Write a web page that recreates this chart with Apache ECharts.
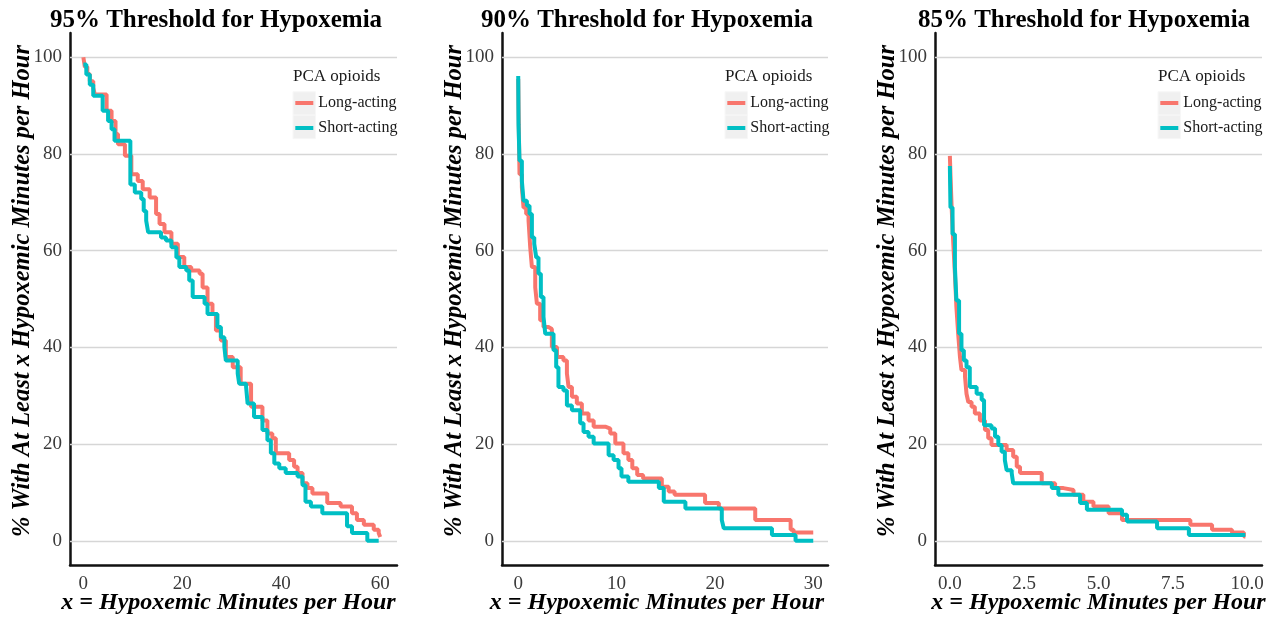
<!DOCTYPE html>
<html>
<head>
<meta charset="utf-8">
<script src="https://cdn.jsdelivr.net/npm/echarts@6/dist/echarts.min.js"></script>
<style>
html,body{margin:0;padding:0;background:#fff;}
#chart{width:1279px;height:627px;}
</style>
</head>
<body>
<div id="chart"></div>
<script>
// ---- Data ----
const panelTitles = ['95% Threshold for Hypoxemia', '90% Threshold for Hypoxemia', '85% Threshold for Hypoxemia'];
const seriesNames = ['Long-acting', 'Short-acting'];
const legendTitle = 'PCA opioids';
const xAxisTitle = 'x = Hypoxemic Minutes per Hour';
const yAxisTitle = '% With At Least x Hypoxemic Minutes per Hour';
const yTicks = [0, 20, 40, 60, 80, 100];
const xTicks95 = [0, 20, 40, 60];
const xTicks90 = [0, 10, 20, 30];
const xTicks85 = [0, 2.5, 5, 7.5, 10];

const long95 = [[0,100],[0.3,98],[0.8,96.5],[1.3,95],[2.0,93.7],[2.3,92.3],[4.7,88.9],[5.7,86.8],[6.5,84.1],[7.0,82.0],[8.4,79.6],[9.7,75.8],[11.0,74.4],[12.0,72.7],[13.4,71.0],[14.7,67.6],[15.4,65.5],[16.4,63.8],[17.8,61.4],[19.1,58.7],[20.4,56.6],[21.8,55.9],[23.5,55.2],[24.1,52.4],[25.1,49.0],[26.1,46.9],[26.8,43.5],[27.8,41.4],[28.8,38.0],[30.2,35.9],[31.8,32.5],[33.9,27.7],[36.2,24.9],[37.2,22.2],[38.2,21.2],[38.9,18.1],[41.6,16.7],[42.6,15.3],[43.3,14.0],[44.3,11.9],[45.3,10.9],[46.3,9.8],[49.3,7.8],[52.0,7.1],[54.3,5.7],[55.3,4.3],[56.7,3.3],[58.7,2.3],[59.7,1.6],[60.0,0.8]];
const short95 = [[0,98.5],[0.6,96.4],[1.3,94.3],[2.0,92.0],[3.9,88.9],[5.0,86.8],[5.7,85.1],[6.3,82.7],[9.5,73.7],[10.4,72.0],[11.7,70.7],[12.2,68.2],[12.7,66.2],[13.1,63.8],[15.7,62.7],[16.7,62.1],[17.8,60.7],[18.8,58.6],[19.4,56.6],[20.8,55.9],[21.4,53.8],[22.1,50.4],[24.5,49.0],[25.1,46.9],[27.1,44.2],[27.8,42.1],[28.5,40.1],[28.8,37.3],[31.2,34.6],[31.5,32.5],[32.9,31.8],[33.2,28.4],[34.5,25.6],[36.2,22.9],[37.2,20.8],[37.9,18.1],[38.6,16.0],[39.6,15.0],[40.9,14.0],[43.3,13.3],[44.3,11.5],[44.9,8.1],[46.0,7.1],[48.3,5.7],[53.3,3.0],[54.3,1.6],[57.4,0],[59.7,0]];
const long90 = [[0,95.5],[0.03,89.6],[0.13,75.8],[0.37,73.1],[0.54,68.9],[0.81,67.6],[1.05,66.2],[1.22,60.7],[1.39,56.6],[1.73,52.4],[1.9,49.0],[2.23,45.6],[2.57,44.2],[3.07,43.8],[3.42,40.1],[3.94,38.0],[4.6,37.3],[4.95,34.6],[5.12,31.8],[5.46,29.8],[5.96,28.4],[6.47,26.3],[7.15,24.9],[7.67,23.6],[8.85,23.2],[9.36,22.2],[9.87,20.1],[10.7,18.1],[11.2,16.7],[11.6,15.0],[12.1,13.6],[12.7,12.9],[14.6,11.2],[15.3,10.2],[15.9,9.5],[19.0,7.8],[20.4,6.7],[24.1,4.3],[27.7,2.3],[28.0,1.7],[30.0,1.7]];
const short90 = [[0,96.1],[0.03,86.1],[0.13,78.6],[0.37,74.4],[0.54,70.3],[0.88,69.3],[1.15,67.6],[1.39,62.7],[1.63,61.4],[1.83,58.6],[2.06,55.2],[2.3,50.4],[2.57,46.3],[2.75,42.8],[3.59,39.4],[3.86,35.9],[4.09,31.8],[4.6,31.1],[4.95,28.0],[5.46,27.0],[6.3,24.3],[6.64,22.5],[7.15,21.5],[7.67,20.1],[9.19,17.7],[9.7,16.7],[10.2,15.0],[10.5,13.3],[11.2,12.2],[14.3,10.9],[14.8,8.1],[17.0,6.7],[20.7,4.3],[20.9,2.6],[25.8,1.2],[28.2,0],[30.0,0]];
const long85 = [[0,79.6],[0.02,75.8],[0.06,68.9],[0.11,62.1],[0.17,55.2],[0.22,48.3],[0.28,42.8],[0.34,38.0],[0.39,35.3],[0.51,33.9],[0.56,30.4],[0.62,28.7],[0.73,27.7],[0.84,26.3],[1.01,24.9],[1.18,22.9],[1.29,21.2],[1.40,19.8],[1.91,18.8],[2.13,17.4],[2.25,15.3],[2.36,14.0],[3.09,11.9],[3.54,10.9],[3.82,10.5],[4.16,9.5],[4.49,8.1],[4.83,7.1],[5.34,5.7],[5.79,4.3],[8.09,3.3],[8.82,2.3],[9.49,1.7],[9.89,0.9],[9.94,0.9]];
const short85 = [[0,77.5],[0.02,68.9],[0.09,63.4],[0.17,56.6],[0.22,49.7],[0.31,42.8],[0.39,39.4],[0.47,37.3],[0.56,35.9],[0.67,31.8],[0.9,30.4],[1.07,29.1],[1.15,23.9],[1.40,23.2],[1.52,21.5],[1.63,19.8],[1.74,18.4],[1.85,16.7],[1.91,14.6],[2.08,14.0],[2.13,11.9],[3.43,10.9],[3.65,9.5],[4.38,7.8],[4.61,6.4],[5.79,5.4],[5.96,4.0],[6.97,2.6],[8.04,1.2],[9.94,1.2]];

// ---- Layout / style ----
const COLORS = ['#F8766D', '#00BFC4'];
const FONT = 'Liberation Serif';
const panels = [
  {left: 70,  width: 327, xmin: -2.7,  xmax: 63.4, ticks: xTicks95, dec: 0, data: [long95, short95], titleX: 216, xNamePadR: 10},
  {left: 502, width: 326, xmin: -1.65, xmax: 31.5, ticks: xTicks90, dec: 0, data: [long90, short90], titleX: 647, xNamePadR: 16},
  {left: 935, width: 327, xmin: -0.5,  xmax: 10.5, ticks: xTicks85, dec: 1, data: [long85, short85], titleX: 1084, xNamePadR: 0}
];
const GRID_TOP = 33, GRID_H = 532;
const labelStyle = {fontFamily: FONT, fontSize: 19, color: '#3a3a3a'};

const option = {
  animation: false,
  backgroundColor: '#ffffff',
  title: [], grid: [], xAxis: [], yAxis: [], series: [], legend: [], graphic: []
};

panels.forEach((p, i) => {
  option.title.push({
    text: panelTitles[i], left: p.titleX, textAlign: 'center', top: 8, padding: 0,
    textStyle: {fontFamily: FONT, fontWeight: 'bold', fontSize: 25, color: '#000'}
  });
  option.grid.push({left: p.left, top: GRID_TOP, width: p.width, height: GRID_H, containLabel: false});
  const useCustom = p.dec === 0;
  option.xAxis.push({
    type: 'value', gridIndex: i, min: p.xmin, max: p.xmax,
    name: xAxisTitle, nameLocation: 'middle', nameGap: 26, nameMoveOverlap: false,
    nameTextStyle: {fontFamily: FONT, fontWeight: 'bold', fontStyle: 'italic', fontSize: 24, color: '#000',
      padding: [0, p.xNamePadR, 0, 0]},
    axisLine: {show: true, onZero: false, lineStyle: {color: '#111', width: 2.5}},
    axisTick: {show: false},
    splitLine: {show: false},
    axisLabel: useCustom ? Object.assign({customValues: p.ticks, margin: 10,
      formatter: v => Number(v).toFixed(p.dec)}, labelStyle) : {show: false}
  });
  option.yAxis.push({
    type: 'value', gridIndex: i, min: -5, max: 105,
    name: yAxisTitle, nameLocation: 'middle', nameGap: 35, nameRotate: 90, nameMoveOverlap: false,
    nameTextStyle: {fontFamily: FONT, fontWeight: 'bold', fontStyle: 'italic', fontSize: 24.5, color: '#000',
      padding: [0, 0, 0, 16]},
    axisLine: {show: true, onZero: false, lineStyle: {color: '#111', width: 2.5}},
    axisTick: {show: false},
    splitLine: {show: false},
    axisLabel: Object.assign({customValues: yTicks, margin: 8}, labelStyle)
  });
  p.data.forEach((d, k) => {
    const s = {
      name: seriesNames[k], type: 'line', step: 'end',
      xAxisIndex: i, yAxisIndex: i, data: d,
      showSymbol: false, symbol: 'none', z: 3 + k,
      color: COLORS[k],
      lineStyle: {color: COLORS[k], width: 4}
    };
    if (k === 0) {
      s.markLine = {
        silent: true, symbol: 'none', z: 1,
        label: {show: false},
        lineStyle: {color: '#D6D6D6', width: 1.3, type: 'solid'},
        emphasis: {disabled: true},
        data: yTicks.map(v => ({yAxis: v}))
      };
    }
    option.series.push(s);
  });
  const boxLeft = p.left + 223;
  option.legend.push({
    orient: 'vertical', left: boxLeft + 2.3, top: 93, padding: 0,
    itemWidth: 18, itemHeight: 4, itemGap: 5, icon: 'rect',
    data: seriesNames, selectedMode: false,
    textStyle: {fontFamily: FONT, fontSize: 16, color: '#1a1a1a', lineHeight: 20}
  });
  option.graphic.push(
    {type: 'rect', z: 0, shape: {x: boxLeft, y: 91.7, width: 22.5, height: 23.5}, style: {fill: '#F0F0F0', stroke: '#F7F7F7', lineWidth: 1}},
    {type: 'rect', z: 0, shape: {x: boxLeft, y: 115.2, width: 22.5, height: 23.5}, style: {fill: '#F0F0F0', stroke: '#F7F7F7', lineWidth: 1}},
    {type: 'text', z: 5, x: boxLeft, y: 77, style: {text: legendTitle, fontFamily: FONT, fontSize: 17, fill: '#1a1a1a', textVerticalAlign: 'middle'}}
  );
});

// Tick-label axis for the 85% panel: spans exactly 0..10 so that ticks start at 0 with step 2.5
const p3 = panels[2];
const pxPerUnit = p3.width / (p3.xmax - p3.xmin);
const labelGridLeft = p3.left + (0 - p3.xmin) * pxPerUnit;
option.grid.push({left: labelGridLeft, top: GRID_TOP, width: (xTicks85[xTicks85.length - 1] - xTicks85[0]) * pxPerUnit, height: GRID_H});
option.xAxis.push({
  type: 'value', gridIndex: 3, min: xTicks85[0], max: xTicks85[xTicks85.length - 1], interval: xTicks85[1] - xTicks85[0],
  axisLine: {show: false}, axisTick: {show: false}, splitLine: {show: false},
  axisLabel: Object.assign({margin: 10, formatter: v => Number(v).toFixed(1)}, labelStyle)
});
option.yAxis.push({type: 'value', gridIndex: 3, min: -5, max: 105, show: false});

const chart = echarts.init(document.getElementById('chart'), null, {renderer: 'canvas'});
chart.setOption(option);
</script>
</body>
</html>
